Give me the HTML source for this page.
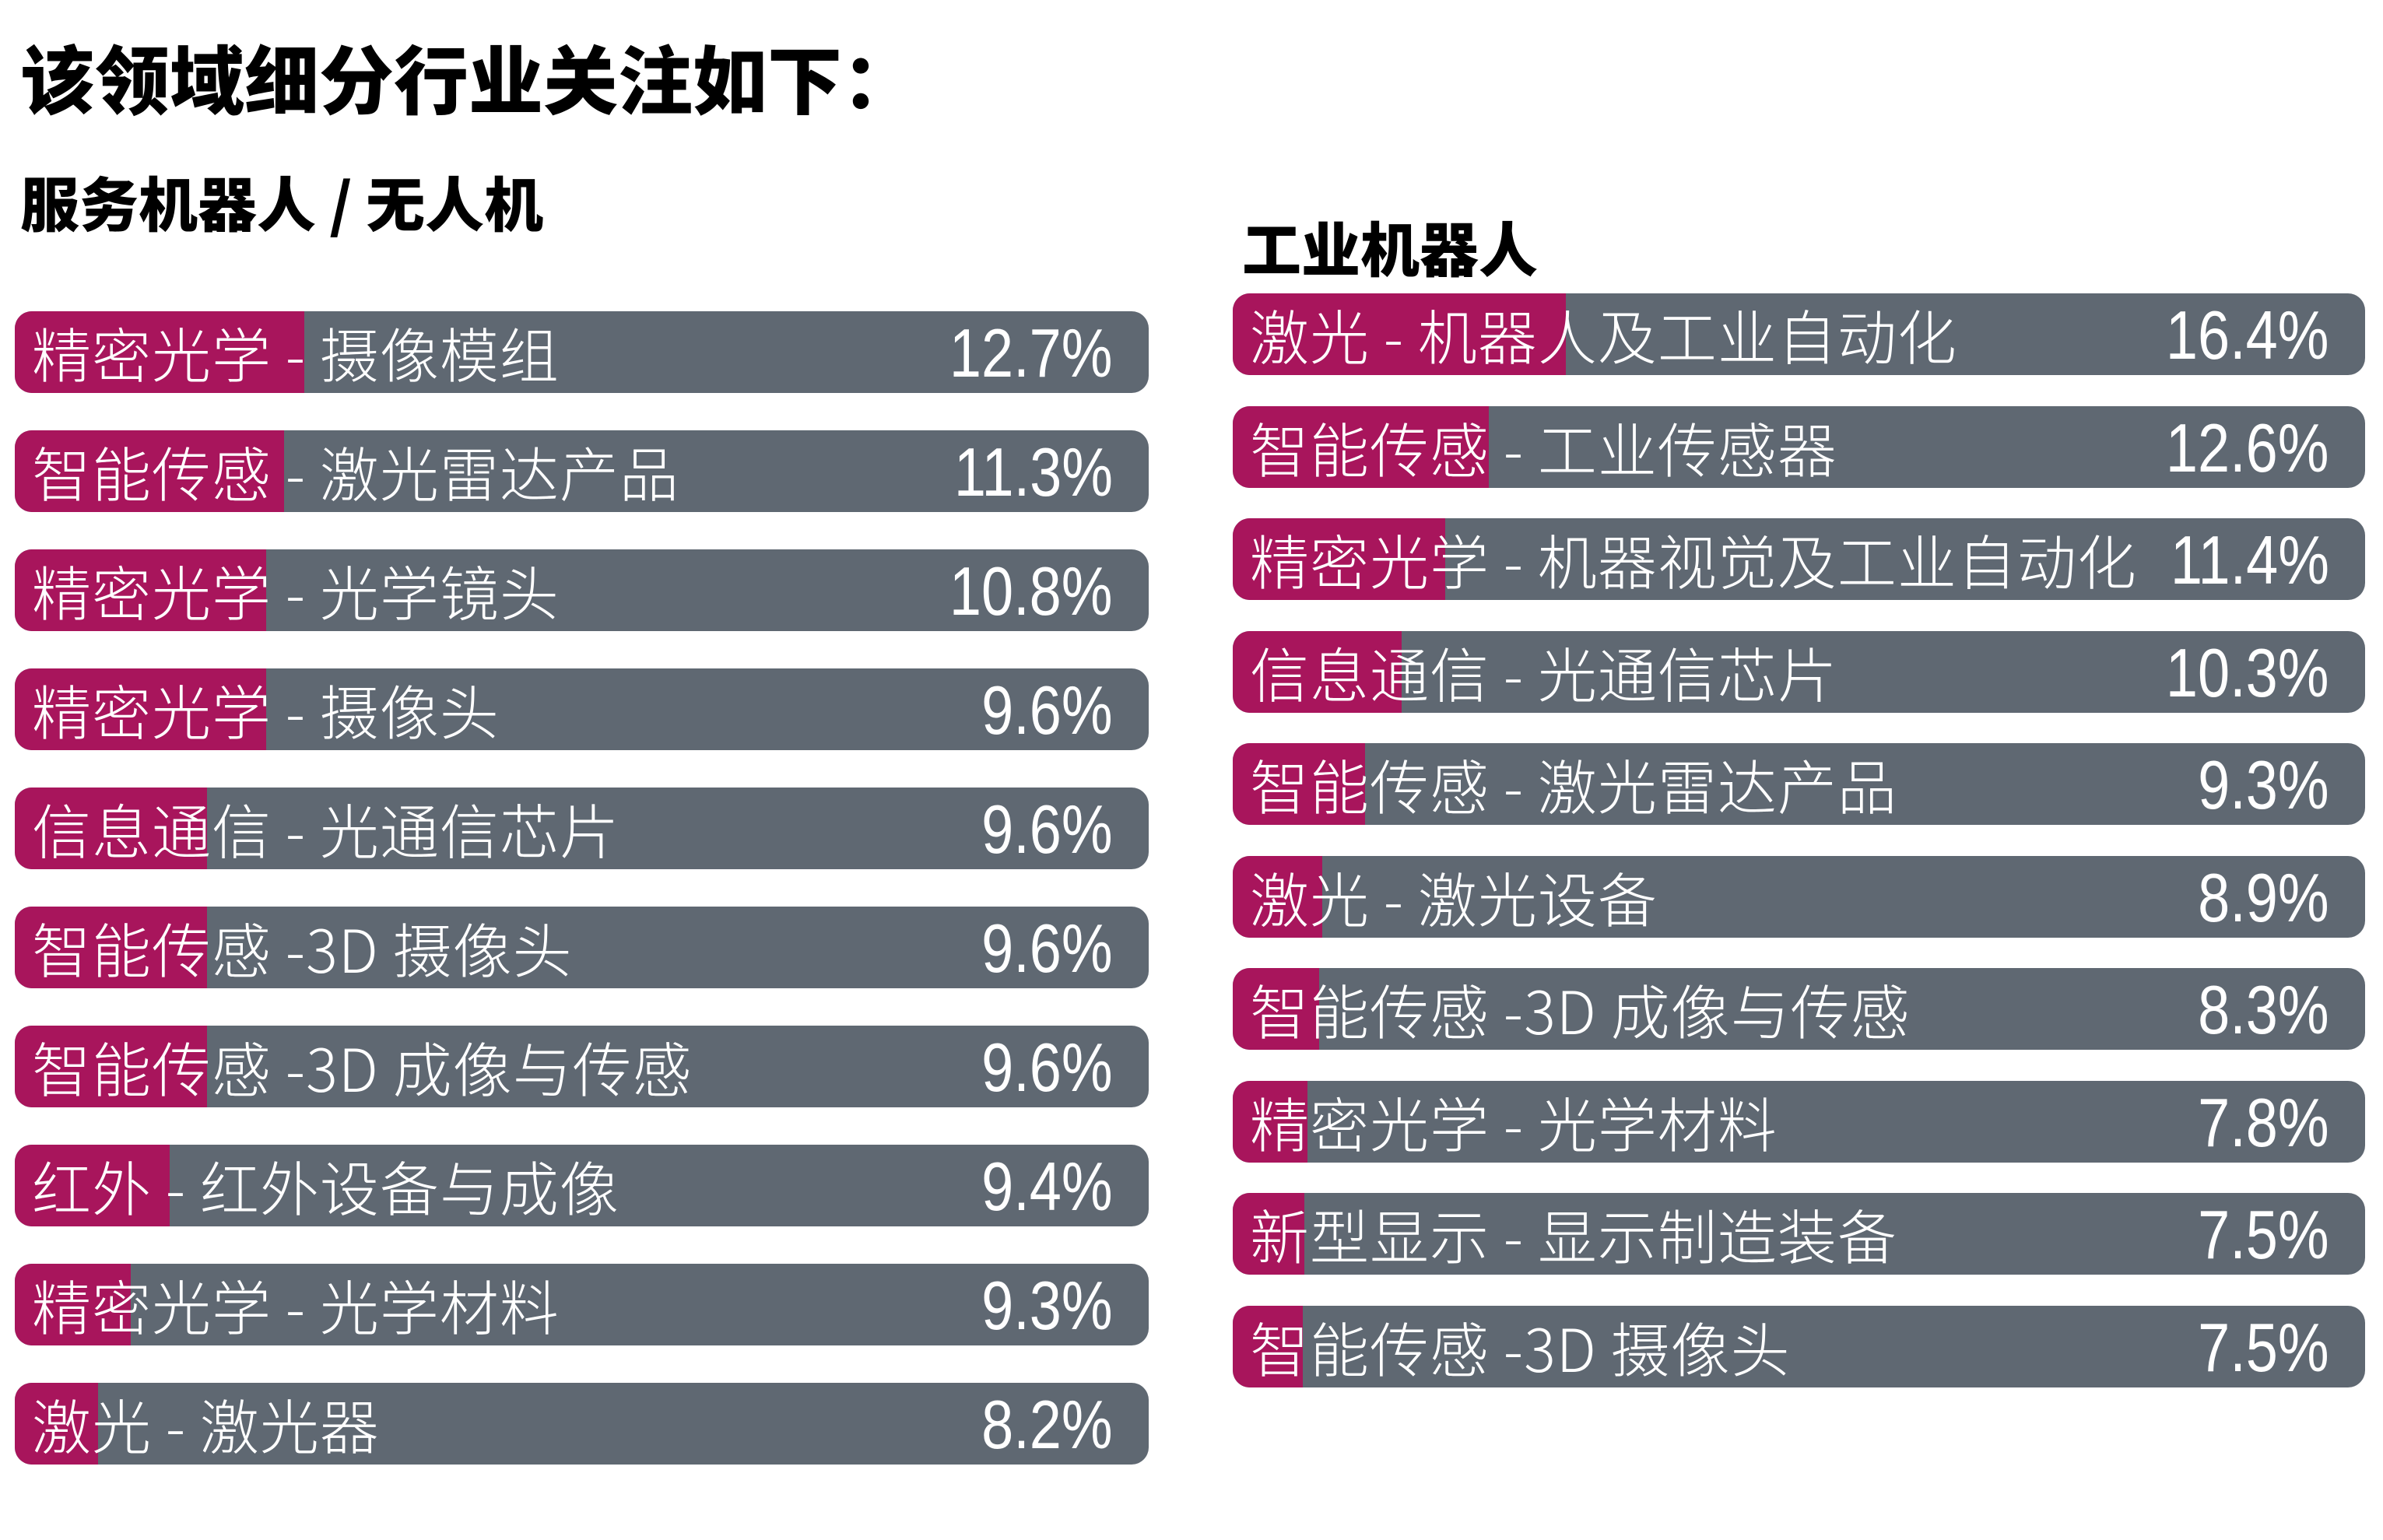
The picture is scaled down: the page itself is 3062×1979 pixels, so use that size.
<!DOCTYPE html>
<html><head><meta charset="utf-8"><style>
body{margin:0;width:3062px;height:1979px;background:#fff;position:relative;overflow:hidden;font-family:"Liberation Sans","Noto Sans CJK SC",sans-serif}
.t{position:absolute;font-weight:bold;color:#000;white-space:nowrap}
.bar{position:absolute;height:105px;background:#5f6872;border-radius:22px;overflow:hidden}
.m{position:absolute;left:0;top:0;bottom:0;background:#a8155c}
.lab{position:absolute;left:22px;top:0;line-height:105px;font-size:76px;color:#fff;font-family:"Noto Sans CJK SC",sans-serif;font-weight:300;white-space:nowrap;letter-spacing:1px}
.p{position:absolute;right:46px;top:0;line-height:107px;font-size:88px;color:#fff;transform:scaleX(0.84);transform-origin:right center;white-space:nowrap}
</style></head><body>
<div class="t" style="left:26px;top:38px;font-size:96px;line-height:120px;font-family:'Noto Sans CJK SC',sans-serif;font-weight:900">该领域细分行业关注如下：</div>
<div class="t" style="left:26px;top:208px;font-size:76px;line-height:100px;font-family:'Noto Sans CJK SC',sans-serif;font-weight:900">服务机器人 / 无人机</div>
<div class="t" style="left:1596px;top:266px;font-size:76px;line-height:100px;font-family:'Noto Sans CJK SC',sans-serif;font-weight:900">工业机器人</div>

<div class="bar" style="left:19px;top:400px;width:1457px"><div class="m" style="width:372px"></div><div class="lab">精密光学 - 摄像模组</div><div class="p">12.7%</div></div>
<div class="bar" style="left:19px;top:553px;width:1457px"><div class="m" style="width:346px"></div><div class="lab">智能传感 - 激光雷达产品</div><div class="p">11.3%</div></div>
<div class="bar" style="left:19px;top:706px;width:1457px"><div class="m" style="width:323px"></div><div class="lab">精密光学 - 光学镜头</div><div class="p">10.8%</div></div>
<div class="bar" style="left:19px;top:859px;width:1457px"><div class="m" style="width:323px"></div><div class="lab">精密光学 - 摄像头</div><div class="p">9.6%</div></div>
<div class="bar" style="left:19px;top:1012px;width:1457px"><div class="m" style="width:247px"></div><div class="lab">信息通信 - 光通信芯片</div><div class="p">9.6%</div></div>
<div class="bar" style="left:19px;top:1165px;width:1457px"><div class="m" style="width:247px"></div><div class="lab">智能传感 -3D 摄像头</div><div class="p">9.6%</div></div>
<div class="bar" style="left:19px;top:1318px;width:1457px"><div class="m" style="width:247px"></div><div class="lab">智能传感 -3D 成像与传感</div><div class="p">9.6%</div></div>
<div class="bar" style="left:19px;top:1471px;width:1457px"><div class="m" style="width:199px"></div><div class="lab">红外 - 红外设备与成像</div><div class="p">9.4%</div></div>
<div class="bar" style="left:19px;top:1624px;width:1457px"><div class="m" style="width:149px"></div><div class="lab">精密光学 - 光学材料</div><div class="p">9.3%</div></div>
<div class="bar" style="left:19px;top:1777px;width:1457px"><div class="m" style="width:107px"></div><div class="lab">激光 - 激光器</div><div class="p">8.2%</div></div>

<div class="bar" style="left:1584px;top:377px;width:1455px"><div class="m" style="width:428px"></div><div class="lab">激光 - 机器人及工业自动化</div><div class="p">16.4%</div></div>
<div class="bar" style="left:1584px;top:522px;width:1455px"><div class="m" style="width:329px"></div><div class="lab">智能传感 - 工业传感器</div><div class="p">12.6%</div></div>
<div class="bar" style="left:1584px;top:666px;width:1455px"><div class="m" style="width:273px"></div><div class="lab">精密光学 - 机器视觉及工业自动化</div><div class="p">11.4%</div></div>
<div class="bar" style="left:1584px;top:811px;width:1455px"><div class="m" style="width:217px"></div><div class="lab">信息通信 - 光通信芯片</div><div class="p">10.3%</div></div>
<div class="bar" style="left:1584px;top:955px;width:1455px"><div class="m" style="width:170px"></div><div class="lab">智能传感 - 激光雷达产品</div><div class="p">9.3%</div></div>
<div class="bar" style="left:1584px;top:1100px;width:1455px"><div class="m" style="width:115px"></div><div class="lab">激光 - 激光设备</div><div class="p">8.9%</div></div>
<div class="bar" style="left:1584px;top:1244px;width:1455px"><div class="m" style="width:111px"></div><div class="lab">智能传感 -3D 成像与传感</div><div class="p">8.3%</div></div>
<div class="bar" style="left:1584px;top:1389px;width:1455px"><div class="m" style="width:96px"></div><div class="lab">精密光学 - 光学材料</div><div class="p">7.8%</div></div>
<div class="bar" style="left:1584px;top:1533px;width:1455px"><div class="m" style="width:92px"></div><div class="lab">新型显示 - 显示制造装备</div><div class="p">7.5%</div></div>
<div class="bar" style="left:1584px;top:1678px;width:1455px"><div class="m" style="width:90px"></div><div class="lab">智能传感 -3D 摄像头</div><div class="p">7.5%</div></div>
</body></html>
